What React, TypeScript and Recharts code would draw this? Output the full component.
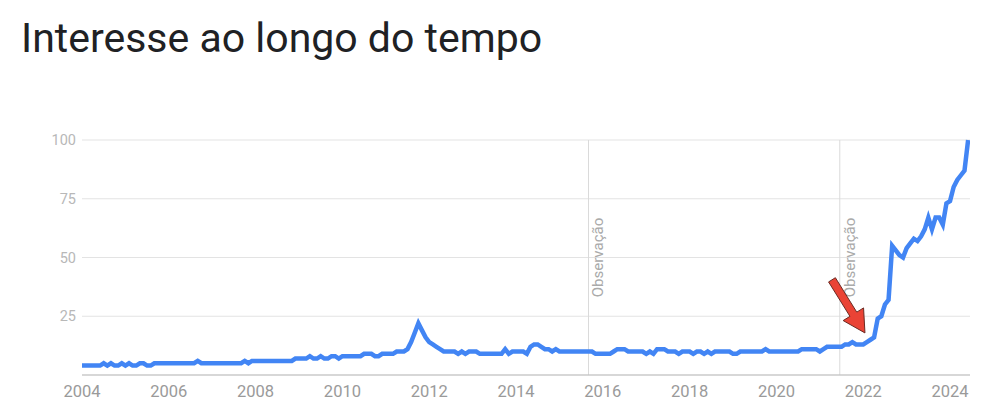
import {
  LineChart,
  Line,
  XAxis,
  YAxis,
  CartesianGrid,
  ReferenceLine,
} from "recharts";

const titleText = "Interesse ao longo do tempo";
const noteLabel = "Observação";

// monthly interest values, Jan..Dec
const y2004 = [4, 4, 4, 4, 4, 4, 5, 4, 5, 4, 4, 5];
const y2005 = [4, 5, 4, 4, 5, 5, 4, 4, 5, 5, 5, 5];
const y2006 = [5, 5, 5, 5, 5, 5, 5, 5, 6, 5, 5, 5];
const y2007 = [5, 5, 5, 5, 5, 5, 5, 5, 5, 6, 5, 6];
const y2008 = [6, 6, 6, 6, 6, 6, 6, 6, 6, 6, 6, 7];
const y2009 = [7, 7, 7, 8, 7, 7, 8, 7, 7, 8, 8, 7];
const y2010 = [8, 8, 8, 8, 8, 8, 9, 9, 9, 8, 8, 9];
const y2011 = [9, 9, 9, 10, 10, 10, 11, 14, 18, 22, 19, 16];
const y2012 = [14, 13, 12, 11, 10, 10, 10, 10, 9, 10, 9, 10];
const y2013 = [10, 10, 9, 9, 9, 9, 9, 9, 9, 11, 9, 10];
const y2014 = [10, 10, 10, 9, 12, 13, 13, 12, 11, 11, 10, 11];
const y2015 = [10, 10, 10, 10, 10, 10, 10, 10, 10, 10, 9, 9];
const y2016 = [9, 9, 9, 10, 11, 11, 11, 10, 10, 10, 10, 10];
const y2017 = [9, 10, 9, 11, 11, 11, 10, 10, 10, 9, 10, 10];
const y2018 = [10, 9, 10, 10, 9, 10, 9, 10, 10, 10, 10, 10];
const y2019 = [9, 9, 10, 10, 10, 10, 10, 10, 10, 11, 10, 10];
const y2020 = [10, 10, 10, 10, 10, 10, 10, 11, 11, 11, 11, 11];
const y2021 = [10, 11, 12, 12, 12, 12, 12, 13, 13, 14, 13, 13];
const y2022 = [13, 14, 15, 16, 24, 25, 30, 32, 55, 53, 51, 50];
const y2023 = [54, 56, 58, 57, 59, 62, 67, 62, 67, 67, 64, 73];
const y2024 = [74, 80, 83, 85, 87, 100];

const years = [
  y2004, y2005, y2006, y2007, y2008, y2009, y2010, y2011, y2012, y2013,
  y2014, y2015, y2016, y2017, y2018, y2019, y2020, y2021, y2022, y2023, y2024,
];

const yearTicks = [2004, 2006, 2008, 2010, 2012, 2014, 2016, 2018, 2020, 2022, 2024];
const valueTicks = [25, 50, 75, 100];
const noteDates = [2015.67, 2021.46];
const arrowFrom = { x: 2021.28, y: 40.5 };
const arrowTo = { x: 2022.04, y: 17.9 };

const data = years.flatMap((vals, yi) =>
  vals.map((v, m) => ({ date: 2004 + yi + m / 12, value: v }))
);

const NoteLabel = (props: any) => {
  const { viewBox } = props;
  const cx = viewBox.x + 15;
  const cy = viewBox.y + viewBox.height / 2;
  return (
    <text
      x={cx}
      y={cy}
      transform={`rotate(-90 ${cx} ${cy})`}
      textAnchor="middle"
      fontSize={15}
      fontFamily="Roboto"
      fill="#aaaaaa"
    >
      {noteLabel}
    </text>
  );
};

const Arrow = (props: any) => {
  const { x1, y1, x2, y2 } = props;
  const dx = x2 - x1;
  const dy = y2 - y1;
  const len = Math.sqrt(dx * dx + dy * dy);
  const ux = dx / len;
  const uy = dy / len;
  const nx = -uy;
  const ny = ux;
  const head = 22;
  const shaft = 4;
  const wing = 12;
  const bx = x2 - ux * head;
  const by = y2 - uy * head;
  const pts = [
    [x1 + nx * shaft, y1 + ny * shaft],
    [bx + nx * shaft, by + ny * shaft],
    [bx + nx * wing, by + ny * wing],
    [x2, y2],
    [bx - nx * wing, by - ny * wing],
    [bx - nx * shaft, by - ny * shaft],
    [x1 - nx * shaft, y1 - ny * shaft],
  ]
    .map((p) => p.join(","))
    .join(" ");
  return <polygon points={pts} fill="#ea4335" stroke="#6b2a22" strokeWidth={1} />;
};

const App = () => {
  return (
    <div
      style={{
        position: "absolute",
        left: 0,
        top: 0,
        width: 1003,
        height: 417,
        background: "#fff",
      }}
    >
      <div
        style={{
          position: "absolute",
          left: 21,
          top: 18,
          fontFamily: "Roboto",
          fontSize: 41,
          lineHeight: 1,
          color: "#202124",
          whiteSpace: "nowrap",
        }}
      >
        {titleText}
      </div>
      <LineChart
        width={1003}
        height={417}
        data={data}
        margin={{ top: 140, right: 33, left: 22, bottom: 12 }}
        style={{ position: "absolute", left: 0, top: 0 }}
      >
        <CartesianGrid vertical={false} stroke="#e3e3e3" />
        <XAxis
          dataKey="date"
          type="number"
          domain={[2004, 2024.46]}
          ticks={yearTicks}
          allowDataOverflow
          height={30}
          tickLine={false}
          tickSize={0}
          tickMargin={10}
          axisLine={{ stroke: "#bdbdbd" }}
          tick={{ fontSize: 16.5, fill: "#9a9a9a", fontFamily: "Roboto" }}
        />
        <YAxis
          type="number"
          domain={[0, 100]}
          ticks={valueTicks}
          width={60}
          axisLine={false}
          tickLine={false}
          tickMargin={0}
          tick={{ fontSize: 14.5, fill: "#b8b8b8", fontFamily: "Roboto" }}
        />
        {noteDates.map((d) => (
          <ReferenceLine key={d} x={d} stroke="#dadada" label={<NoteLabel />} />
        ))}
        <Line
          type="linear"
          dataKey="value"
          stroke="#4285f4"
          strokeWidth={4.5}
          dot={false}
          activeDot={false}
          isAnimationActive={false}
        />
        <ReferenceLine segment={[arrowFrom, arrowTo]} shape={<Arrow />} />
      </LineChart>
    </div>
  );
};

export default App;
